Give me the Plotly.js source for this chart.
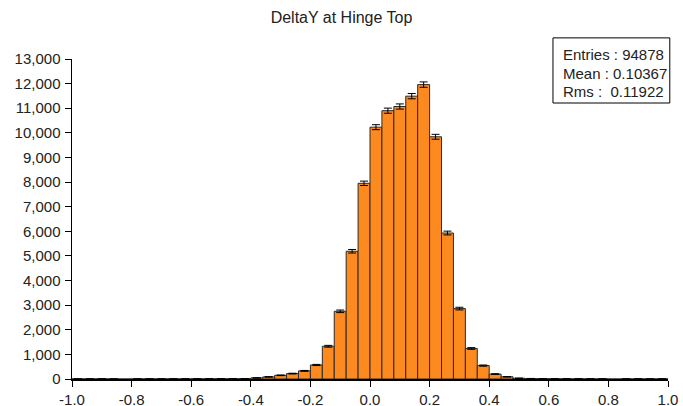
<!DOCTYPE html>
<html>
<head>
<meta charset="utf-8">
<script src="https://cdn.plot.ly/plotly-3.0.1.min.js"></script>
<style>
  html, body { margin: 0; padding: 0; background: #fff; }
  #chart { width: 683px; height: 406px; }
</style>
</head>
<body>
<div id="chart"></div>
<script>
// Histogram of DeltaY at the hinge top: 50 bins of width 0.04 over [-1, 1]
const binCenters = [
  -0.98, -0.94, -0.90, -0.86, -0.82, -0.78, -0.74, -0.70, -0.66, -0.62,
  -0.58, -0.54, -0.50, -0.46, -0.42, -0.38, -0.34, -0.30, -0.26, -0.22,
  -0.18, -0.14, -0.10, -0.06, -0.02,  0.02,  0.06,  0.10,  0.14,  0.18,
   0.22,  0.26,  0.30,  0.34,  0.38,  0.42,  0.46,  0.50,  0.54,  0.58,
   0.62,  0.66,  0.70,  0.74,  0.78,  0.82,  0.86,  0.90,  0.94,  0.98
];
const binWidth = 0.04;

const counts = [
      3,     2,     4,     2,     0,     3,     4,     3,     5,     4,
      6,     7,     8,    10,    14,    45,    85,   150,   220,   330,
    570,  1330,  2750,  5190,  7950, 10230, 10900, 11070, 11490, 11960,
   9840,  5930,  2860,  1240,   545,   200,    90,    30,    18,    12,
      8,     6,     5,     4,     3,     0,     2,     3,     2,     2
];

const xTickVals = [-1.0, -0.8, -0.6, -0.4, -0.2, 0.0, 0.2, 0.4, 0.6, 0.8, 1.0];
const xTickText = ['-1.0', '-0.8', '-0.6', '-0.4', '-0.2', '0.0', '0.2', '0.4', '0.6', '0.8', '1.0'];

const statNames = ['Entries', 'Mean', 'Rms'];
const statValues = ['94878', '0.10367', '0.11922'];

// Poisson error on each bin; empty bins carry no error bar
const binErrors = counts.map(c => (c > 0 ? Math.sqrt(c) : NaN));

const textFont = { family: 'Liberation Sans, Arial, sans-serif', color: '#222' };

const trace = {
  type: 'bar',
  x: binCenters,
  y: counts,
  width: binCenters.map(() => binWidth),
  marker: { color: '#fd8a1e', line: { color: '#2b2b2b', width: 1 } },
  error_y: { type: 'data', array: binErrors, visible: true, color: '#000', thickness: 1, width: 4 },
  hoverinfo: 'x+y',
  showlegend: false
};

const statsLineY = [1.0147, 0.955, 0.898];
const statLabels = statNames.map((n, i) => n + (n === 'Rms' ? ' :\u00a0 ' : ' : ') + statValues[i]);

const annotations = statLabels.map((t, i) => ({
  text: t,
  xref: 'paper', yref: 'paper',
  x: 0.82, y: statsLineY[i],
  xanchor: 'left', yanchor: 'middle',
  showarrow: false,
  font: Object.assign({ size: 15 }, textFont)
}));

const layout = {
  width: 683,
  height: 406,
  margin: { l: 72, r: 15, t: 59, b: 27 },
  paper_bgcolor: '#fff',
  plot_bgcolor: '#fff',
  bargap: 0,
  title: {
    text: 'DeltaY at Hinge Top',
    x: 0.5, xref: 'container', xanchor: 'center',
    y: 1 - 17 / 406, yref: 'container', yanchor: 'middle',
    font: Object.assign({ size: 16 }, textFont)
  },
  xaxis: {
    range: [-1, 1],
    tickvals: xTickVals,
    ticktext: xTickText,
    ticks: 'outside', ticklen: 6, tickwidth: 1, tickcolor: '#000',
    showline: true, linecolor: '#000', linewidth: 1.5,
    showgrid: false, zeroline: false,
    tickfont: Object.assign({ size: 15 }, textFont),
    fixedrange: true
  },
  xaxis2: {
    overlaying: 'x', anchor: 'y', side: 'bottom',
    range: [-1, 1],
    tickvals: xTickVals,
    ticks: 'inside', ticklen: 6, tickwidth: 1, tickcolor: '#000',
    showticklabels: false, showline: false, showgrid: false, zeroline: false
  },
  yaxis: {
    range: [0, 13000],
    dtick: 1000,
    tickformat: ',d',
    ticks: 'outside', ticklen: 6, tickwidth: 1, tickcolor: '#000',
    showline: true, linecolor: '#000', linewidth: 1.5,
    showgrid: false, zeroline: false,
    tickfont: Object.assign({ size: 15 }, textFont),
    ticklabelstandoff: 1,
    fixedrange: true
  },
  yaxis2: {
    overlaying: 'y', anchor: 'x', side: 'left',
    range: [0, 13000],
    dtick: 1000,
    ticks: 'inside', ticklen: 6, tickwidth: 1, tickcolor: '#000',
    showticklabels: false, showline: false, showgrid: false, zeroline: false
  },
  shapes: [{
    type: 'rect', xref: 'paper', yref: 'paper',
    x0: 0.807, x1: 1.003, y0: 0.8625, y1: 1.066,
    line: { color: '#000', width: 1 },
    fillcolor: '#fff',
    layer: 'above'
  }],
  annotations: annotations
};

Plotly.newPlot('chart', [trace], layout, { displayModeBar: false, staticPlot: true });
</script>
</body>
</html>
